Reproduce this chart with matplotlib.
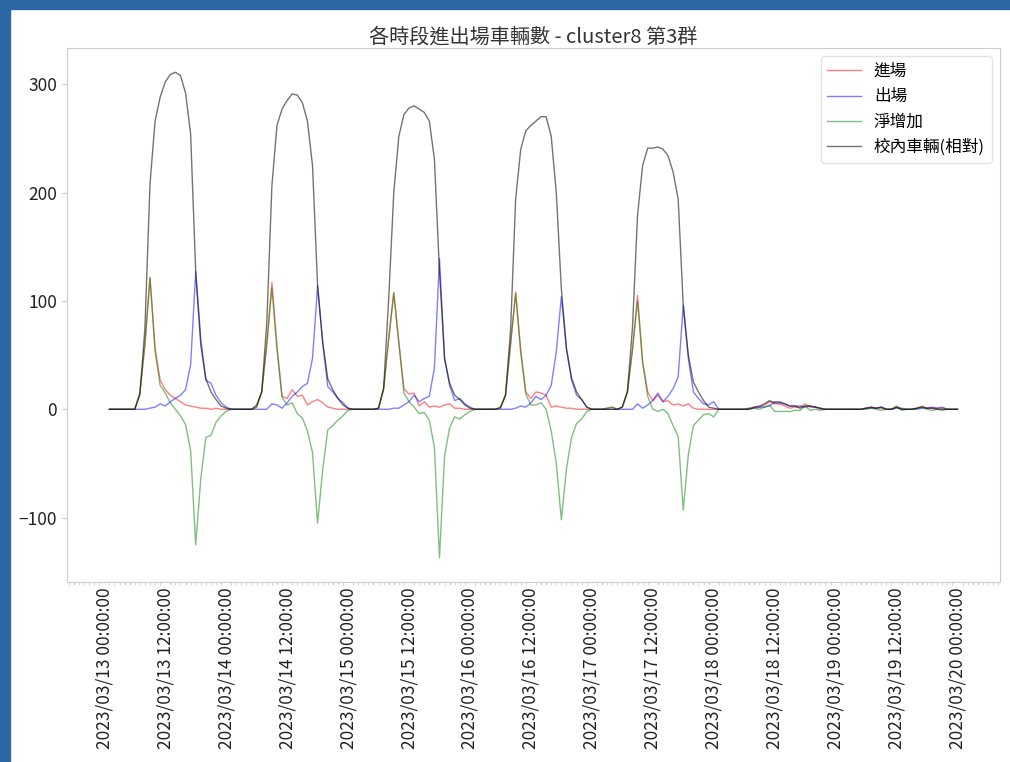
import numpy as np
import pandas as pd
import matplotlib
matplotlib.use("Agg")
import matplotlib.pyplot as plt
import matplotlib.dates as mdates
from matplotlib.patches import Rectangle

plt.rcParams['font.family'] = ['Noto Sans CJK TC', 'DejaVu Sans']

# hourly counts, one list of 24 per day (01:00 .. next day 00:00)
in_cnt = [
    [0, 0, 0, 0, 0, 0, 15, 60, 122, 56, 27, 18, 13, 10, 7, 4, 3, 2, 1, 1, 0, 1, 0, 0],
    [0, 0, 0, 0, 0, 2, 16, 60, 117, 59, 12, 10, 18, 12, 13, 4, 7, 9, 6, 2, 1, 0, 0, 0],
    [0, 0, 0, 0, 0, 1, 19, 65, 108, 62, 19, 14, 15, 3, 7, 2, 3, 2, 4, 5, 1, 1, 0, 0],
    [0, 0, 0, 0, 0, 1, 13, 60, 108, 55, 16, 10, 16, 15, 13, 2, 3, 2, 1, 1, 0, 0, 0, 0],
    [0, 0, 1, 2, 0, 2, 16, 55, 105, 44, 16, 8, 13, 7, 8, 4, 5, 3, 5, 1, 0, 0, 0, 0],
    [0, 0, 0, 0, 0, 0, 1, 2, 2, 4, 7, 5, 5, 3, 1, 2, 2, 5, 2, 2, 0, 0, 0, 0],
    [0, 0, 0, 0, 0, 1, 2, 1, 1, 0, 0, 3, 0, 0, 0, 1, 3, 1, 1, 1, 1, 0, 0, 0],
]
out_cnt = [
    [0, 0, 0, 0, 0, 0, 0, 0, 1, 2, 5, 3, 7, 10, 13, 18, 41, 127, 65, 27, 24, 13, 6, 2],
    [0, 0, 0, 0, 0, 0, 0, 0, 5, 4, 1, 6, 12, 16, 21, 24, 47, 114, 62, 21, 16, 10, 6, 1],
    [0, 0, 0, 0, 0, 0, 0, 0, 1, 1, 4, 7, 13, 7, 10, 12, 38, 139, 47, 22, 8, 10, 5, 2],
    [0, 0, 0, 0, 0, 0, 0, 0, 1, 3, 2, 6, 12, 9, 13, 22, 53, 104, 56, 27, 13, 9, 2, 0],
    [0, 0, 0, 0, 0, 0, 0, 0, 5, 1, 4, 8, 15, 7, 12, 19, 30, 96, 47, 16, 10, 5, 4, 7],
    [0, 0, 0, 0, 0, 0, 0, 1, 2, 2, 3, 7, 7, 5, 3, 3, 3, 2, 3, 2, 1, 0, 0, 0],
    [0, 0, 0, 0, 0, 1, 1, 1, 2, 0, 0, 1, 1, 0, 0, 0, 1, 1, 2, 1, 2, 0, 0, 0],
]
on_campus = [
    [0, 0, 0, 0, 0, 0, 13, 75, 208, 266, 288, 302, 309, 311, 308, 292, 254, 127, 59, 28, 16, 9, 3, 1],
    [0, 0, 0, 0, 0, 4, 16, 80, 206, 262, 277, 285, 291, 290, 283, 266, 225, 114, 62, 28, 18, 10, 4, 1],
    [0, 0, 0, 0, 0, 1, 19, 102, 200, 252, 272, 278, 280, 277, 274, 266, 231, 127, 47, 24, 13, 9, 4, 1],
    [0, 0, 0, 0, 0, 2, 13, 73, 194, 240, 257, 262, 266, 270, 270, 252, 200, 111, 56, 29, 16, 9, 2, 0],
    [0, 0, 0, 0, 0, 2, 16, 75, 179, 225, 241, 241, 242, 240, 234, 219, 194, 96, 50, 25, 16, 8, 2, 1],
    [0, 0, 0, 0, 0, 0, 0, 2, 3, 5, 8, 6, 6, 5, 3, 3, 1, 3, 3, 2, 1, 0, 0, 0],
    [0, 0, 0, 0, 0, 1, 2, 1, 2, 0, 0, 2, 0, 0, 0, 1, 2, 1, 1, 0, 0, 0, 0, 0],
]

times = pd.date_range("2023-03-13 01:00", "2023-03-20 00:00", freq="h")
df = pd.DataFrame({
    "in": np.concatenate(in_cnt),
    "out": np.concatenate(out_cnt),
    "total": np.concatenate(on_campus),
}, index=times)
df["net"] = df["in"] - df["out"]

fig = plt.figure(figsize=(10.1, 7.62), dpi=100)
ax = fig.add_axes([0.0663, 0.2362, 0.9237, 0.7008])

ax.plot(df.index, df["in"], color="red", alpha=0.5, lw=1, label="進場")
ax.plot(df.index, df["out"], color="blue", alpha=0.5, lw=1, label="出場")
ax.plot(df.index, df["net"], color="green", alpha=0.5, lw=1, label="淨增加")
ax.plot(df.index, df["total"], color="black", alpha=0.55, lw=1, label="校內車輛(相對)")

ax.set_title("各時段進出場車輛數 - cluster8 第3群", fontsize=14.5, color="#333333", pad=4)

ticks = pd.date_range("2023-03-13 00:00", "2023-03-20 00:00", freq="12h")
ax.set_xticks(ticks)
ax.xaxis.set_major_formatter(mdates.DateFormatter("%Y/%m/%d %H:%M:%S"))
ax.xaxis.set_minor_locator(mdates.HourLocator())
plt.setp(ax.get_xticklabels(), rotation=90)
ax.set_yticks([-100, 0, 100, 200, 300])

ax.tick_params(labelsize=12.5, colors="#cccccc", labelcolor="#222222")
ax.tick_params(axis="x", which="major", length=0, pad=4)
ax.tick_params(axis="x", which="minor", length=2, width=0.6, colors="#cccccc")
for s in ax.spines.values():
    s.set_color("#cccccc")

leg = ax.legend(loc="upper right", fontsize=12, frameon=True)
leg.get_frame().set_edgecolor("#dddddd")

# window frame around the figure
fig.patches.append(Rectangle((0, 0.988), 1, 0.012, transform=fig.transFigure,
                             color="#2b67a5", zorder=10))
fig.patches.append(Rectangle((0, 0), 0.0099, 1, transform=fig.transFigure,
                             color="#2b67a5", zorder=10))

fig.savefig("out.png", dpi=100)
